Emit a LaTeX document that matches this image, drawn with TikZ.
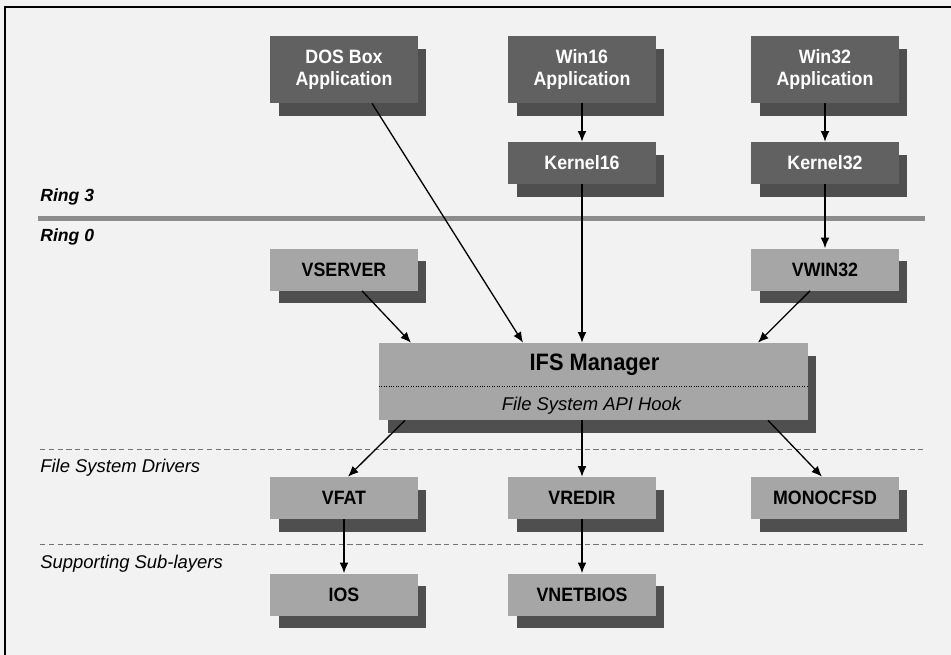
\documentclass[tikz,border=0pt]{standalone}
\usepackage{fontspec}
\setmainfont{Liberation Sans}
\newfontfamily\condfont[FakeStretch=0.92]{Liberation Sans}
\usetikzlibrary{arrows.meta,shadows,calc}
\definecolor{paper}{gray}{0.95}
\definecolor{appgray}{gray}{0.38}
\definecolor{vxdgray}{gray}{0.65}
\definecolor{ringgray}{gray}{0.55}
\tikzset{
  boxnode/.style = {rectangle, inner sep=0pt, align=center,
    font=\condfont\bfseries\fontsize{11}{12.5}\selectfont, minimum width=2.96cm,
    drop shadow={shadow xshift=0.17cm, shadow yshift=-0.25cm, fill=black!80, opacity=0.85}},
  app_box/.style = {boxnode, fill=appgray, text=white, minimum height=1.34cm},% ring 3, application
  krn_box/.style = {boxnode, fill=appgray, text=white, minimum height=0.84cm},% ring 3, kernel
  vxd_box/.style = {boxnode, fill=vxdgray, text=black, minimum height=0.84cm},% ring 0, vxd
  ring_lbl/.style = {anchor=west, inner sep=0pt, font=\bfseries\itshape\fontsize{10}{12}\selectfont},
  layer_lbl/.style = {anchor=west, inner sep=0pt, font=\itshape\fontsize{10.5}{12}\selectfont},
  call/.style = {-{Latex[length=6pt, width=5pt]}, line width=0.75pt, black},
  layerline/.style = {thin, black!55, dash pattern=on 3pt off 2pt}
}

\begin{document}
\begin{tikzpicture}[x=0.02cm, y=-0.02cm]
  \useasboundingbox (0,0) rectangle (951,654);
  \fill[paper] (-20,-20) rectangle (971,674);
  \draw[line width=0.9pt] (5,680) -- (5,7) -- (980,7);

  % rings and layers
  \draw[ringgray, line width=0.1cm] (38,218) -- (925,218);
  \node[ring_lbl] (ring3) at (40,197) {Ring 3};
  \node[ring_lbl] (ring0) at (40,237) {Ring 0};
  \draw[layerline] (40,449) -- (923,449);
  \draw[layerline] (40,544) -- (923,544);
  \node[layer_lbl] (fsd) at (40,468) {File System Drivers};
  \node[layer_lbl] (sub) at (40,564) {Supporting Sub-layers};

  % ring 3
  \node[app_box] (dos) at (344,69.5) {DOS Box\\Application};
  \node[app_box] (win16) at (582,69.5) {Win16\\Application};
  \node[app_box] (win32) at (825,69.5) {Win32\\Application};
  \node[krn_box] (kern16) at (582,163) {Kernel16};
  \node[krn_box] (kern32) at (825,163) {Kernel32};

  % ring 0
  \node[vxd_box] (vserver) at (344,269.5) {VSERVER};
  \node[vxd_box] (vwin32) at (825,269.5) {VWIN32};
  \node[vxd_box, minimum width=8.58cm, minimum height=1.54cm] (ifs) at (593.5,381.5) {};
  \node[font=\condfont\bfseries\fontsize{13.5}{15}\selectfont, inner sep=0pt] (ifsname) at (594.5,365) {IFS Manager};
  \node[font=\itshape\fontsize{10.5}{12}\selectfont, inner sep=0pt] (ifshook) at (591.5,406) {File System API Hook};
  \coordinate (ifssep) at (593.5,386);
  \draw[densely dotted, thin] (ifs.west |- ifssep) -- (ifs.east |- ifssep);

  \node[vxd_box] (vfat) at (344,498) {VFAT};
  \node[vxd_box] (vredir) at (582,498) {VREDIR};
  \node[vxd_box] (monocfsd) at (825,498) {MONOCFSD};
  \node[vxd_box] (ios) at (344,594.5) {IOS};
  \node[vxd_box] (vnetbios) at (582,594.5) {VNETBIOS};

  % calls
  \draw[call] (win16) -- (kern16);
  \draw[call] (win32) -- (kern32);
  \draw[call] (kern32) -- (vwin32);
  \draw[call] (kern16.south) -- (kern16.south |- ifs.north);
  \draw[call] ($(dos.south)+(28,0)$) -- ($(ifs.north)+(-70.5,0)$);
  \draw[call] ($(vserver.south)+(18,0)$) -- ($(ifs.north)+(-182.5,0)$);
  \draw[call] ($(vwin32.south)+(-15,0)$) -- ($(ifs.north)+(164.5,0)$);
  \draw[call] ($(ifs.south)+(-188.5,0)$) -- ($(vfat.north)+(4,0)$);
  \draw[call] (vredir.north |- ifs.south) -- (vredir.north);
  \draw[call] ($(ifs.south)+(174.5,0)$) -- ($(monocfsd.north)+(-3,0)$);
  \draw[call] (vfat) -- (ios);
  \draw[call] (vredir) -- (vnetbios);
\end{tikzpicture}
\end{document}
